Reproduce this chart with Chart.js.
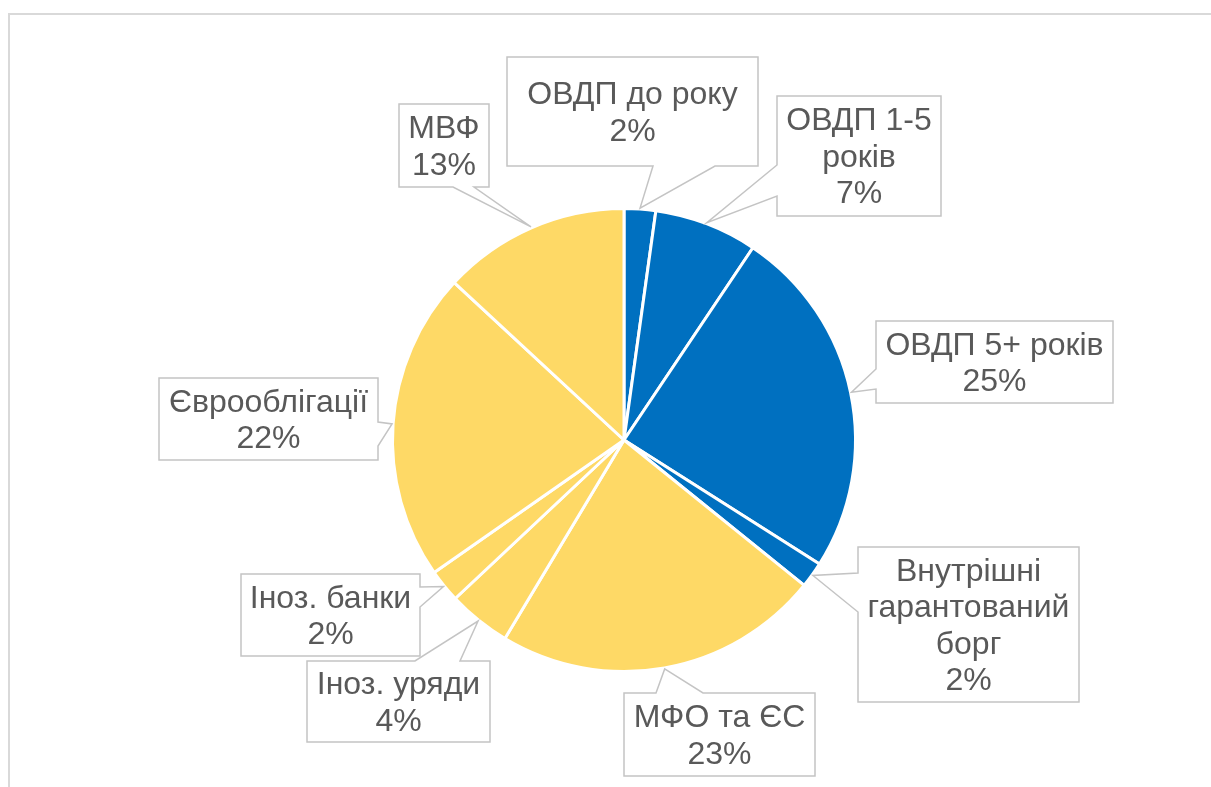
<!DOCTYPE html>
<html>
<head>
<meta charset="utf-8">
<script src="https://cdn.jsdelivr.net/npm/chart.js@4/dist/chart.umd.min.js"></script>
<style>
  html, body { margin: 0; padding: 0; background: #fff; }
  canvas { display: block; }
</style>
</head>
<body>
<canvas id="chart" width="1211" height="787"></canvas>
<script>
// ==== data (clockwise from 12 o'clock) ====
const labels = [
  ["ОВДП до року"],
  ["ОВДП 1-5", "років"],
  ["ОВДП 5+ років"],
  ["Внутрішні", "гарантований", "борг"],
  ["МФО та ЄС"],
  ["Іноз. уряди"],
  ["Іноз. банки"],
  ["Єврооблігації"],
  ["МВФ"],
];
const shares = [2.2, 7.2, 24.6, 1.8, 22.8, 4.4, 2.3, 21.6, 13.1];
const BLUE = "#0070c0";
const YELLOW = "#fed966";
const sliceColors = [BLUE, BLUE, BLUE, BLUE, YELLOW, YELLOW, YELLOW, YELLOW, YELLOW];

// callout boxes: offset of top-left from pie centre, size, side of the wedge and its base
const callouts = [
  { dx: -117, dy: -383, w: 251, h: 109, side: "bottom", a0: 146, a1: 208 },
  { dx: 153, dy: -344, w: 164, h: 120, side: "left", a0: 69, a1: 100 },
  { dx: 252, dy: -119, w: 237, h: 82, side: "left", a0: 48, a1: 68 },
  { dx: 234, dy: 107, w: 221, h: 155, side: "left", a0: 26, a1: 65 },
  { dx: 0, dy: 253, w: 191, h: 83, side: "top", a0: 32, a1: 79 },
  { dx: -317, dy: 221, w: 183, h: 81, side: "top", a0: 108, a1: 153 },
  { dx: -383, dy: 134, w: 179, h: 82, side: "right", a0: 13, a1: 33 },
  { dx: -465, dy: -62, w: 219, h: 82, side: "right", a0: 44, a1: 68 },
  { dx: -225, dy: -336, w: 90, h: 83, side: "bottom", a0: 54, a1: 75 },
];

const FONT = '32px "Liberation Sans", Arial, sans-serif';
const LINE_H = 36.5;

function calloutPath(c, b, tip) {
  const { x, y, w, h, side, a0, a1 } = b;
  c.beginPath();
  c.moveTo(x, y);
  if (side === "top") { c.lineTo(x + a0, y); c.lineTo(tip.x, tip.y); c.lineTo(x + a1, y); }
  c.lineTo(x + w, y);
  if (side === "right") { c.lineTo(x + w, y + a0); c.lineTo(tip.x, tip.y); c.lineTo(x + w, y + a1); }
  c.lineTo(x + w, y + h);
  if (side === "bottom") { c.lineTo(x + a1, y + h); c.lineTo(tip.x, tip.y); c.lineTo(x + a0, y + h); }
  c.lineTo(x, y + h);
  if (side === "left") { c.lineTo(x, y + a1); c.lineTo(tip.x, tip.y); c.lineTo(x, y + a0); }
  c.closePath();
}

const framePlugin = {
  id: "frame",
  beforeDraw(chart) {
    const c = chart.ctx;
    c.save();
    c.strokeStyle = "#d9d9d9";
    c.lineWidth = 2;
    c.beginPath();
    c.moveTo(9, 787);
    c.lineTo(9, 14);
    c.lineTo(1211, 14);
    c.stroke();
    c.restore();
  },
};

const calloutPlugin = {
  id: "callouts",
  afterDatasetsDraw(chart) {
    const c = chart.ctx;
    const meta = chart.getDatasetMeta(0);
    const values = chart.data.datasets[0].data;
    c.save();
    meta.data.forEach((arc, i) => {
      const p = arc.getProps(["x", "y", "startAngle", "endAngle", "outerRadius"], true);
      const mid = (p.startAngle + p.endAngle) / 2;
      const tip = {
        x: p.x + Math.cos(mid) * (p.outerRadius + 1),
        y: p.y + Math.sin(mid) * (p.outerRadius + 1),
      };
      const cfg = callouts[i];
      const box = { ...cfg, x: p.x + cfg.dx, y: p.y + cfg.dy };
      calloutPath(c, box, tip);
      c.fillStyle = "#fff";
      c.fill();
      c.strokeStyle = "#c4c4c4";
      c.lineWidth = 1.5;
      c.stroke();

      const lines = [...chart.data.labels[i], Math.round(values[i]) + "%"];
      c.fillStyle = "#595959";
      c.font = FONT;
      c.textAlign = "center";
      c.textBaseline = "middle";
      const cx = box.x + box.w / 2;
      const cy = box.y + box.h / 2 + 2;
      lines.forEach((t, k) => {
        c.fillText(t, cx, cy + (k - (lines.length - 1) / 2) * LINE_H);
      });
    });
    c.restore();
  },
};

new Chart(document.getElementById("chart"), {
  type: "pie",
  data: {
    labels,
    datasets: [
      {
        data: shares,
        backgroundColor: sliceColors,
        borderColor: "#fff",
        borderWidth: 3,
      },
    ],
  },
  options: {
    responsive: false,
    animation: false,
    layout: { padding: { top: 207, bottom: 114, left: 391, right: 354 } },
    plugins: {
      legend: { display: false },
      tooltip: { enabled: false },
    },
  },
  plugins: [framePlugin, calloutPlugin],
});
</script>
</body>
</html>
